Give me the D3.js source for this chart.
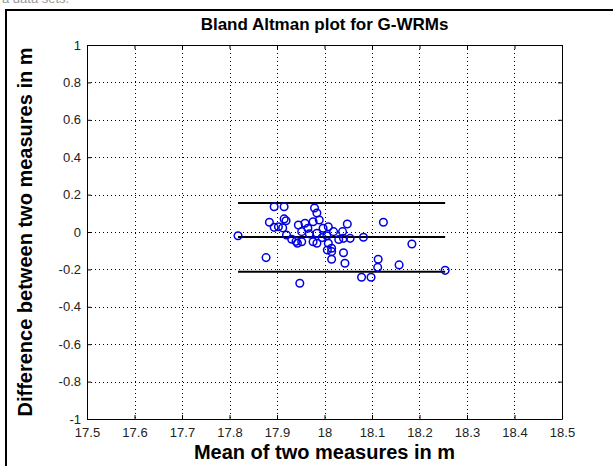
<!DOCTYPE html>
<html>
<head>
<meta charset="utf-8">
<script src="https://cdn.jsdelivr.net/npm/d3@7"></script>
<style>
  body { margin: 0; background: #fff; }
  svg { display: block; font-family: Arial, 'Liberation Sans', sans-serif; }
</style>
</head>
<body>
<svg id="chart" width="613" height="466"></svg>
<script>
// mean of the two measures (x) and their difference (y)
const meanVals = [
  17.818, 17.877, 17.884, 17.894, 17.915, 17.915, 17.894, 17.903, 17.912, 17.919,
  17.920, 17.931, 17.945, 17.943, 17.948, 17.959, 17.952, 17.952, 17.979, 17.984,
  17.976, 17.989, 17.984, 17.976, 17.984, 17.997, 18.008, 18.019, 18.008, 18.006,
  18.015, 18.015, 18.040, 18.015, 18.043, 18.048, 18.038, 18.040, 18.054, 18.082,
  18.124, 18.184, 18.113, 18.112, 18.157, 18.078, 18.098, 18.254, 17.995, 18.005,
  18.030, 17.968, 17.940, 17.965,
];
const diffVals = [
  -0.020, -0.137, 0.052, 0.135, 0.135, 0.070, 0.025, 0.028, 0.022, 0.060,
  -0.016, -0.039, 0.037, -0.060, -0.274, 0.047, 0.002, -0.052, 0.128, 0.102,
  0.055, 0.064, -0.007, -0.052, -0.060, 0.020, 0.028, 0.002, -0.060, -0.096,
  -0.105, -0.087, -0.111, -0.146, -0.167, 0.043, 0.002, -0.034, -0.034, -0.028,
  0.052, -0.064, -0.146, -0.189, -0.176, -0.242, -0.242, -0.205, -0.030, -0.020,
  -0.040, -0.010, -0.050, 0.020,
];

// mean difference and limits of agreement
const meanDiff = -0.027;
const upperLoA = 0.155;
const lowerLoA = -0.212;

const xTicks = [17.5, 17.6, 17.7, 17.8, 17.9, 18, 18.1, 18.2, 18.3, 18.4, 18.5];
const xTickLabels = ['17.5', '17.6', '17.7', '17.8', '17.9', '18', '18.1', '18.2', '18.3', '18.4', '18.5'];
const yTicks = [-1, -0.8, -0.6, -0.4, -0.2, 0, 0.2, 0.4, 0.6, 0.8, 1];
const yTickLabels = ['-1', '-0.8', '-0.6', '-0.4', '-0.2', '0', '0.2', '0.4', '0.6', '0.8', '1'];

const svg = d3.select('#chart');

const x = d3.scaleLinear().domain([17.5, 18.5]).range([87, 562]);
const y = d3.scaleLinear().domain([-1, 1]).range([419, 45]);

// outer figure frame (runs off the right and bottom edge)
svg.append('rect')
  .attr('x', 6).attr('y', 10)
  .attr('width', 700).attr('height', 600)
  .attr('fill', 'none')
  .attr('stroke', '#000')
  .attr('stroke-width', 2);

// caption line of the page above, mostly cut off
svg.append('text')
  .attr('x', 2).attr('y', 3)
  .attr('fill', '#999')
  .attr('font-size', 13)
  .text('a data sets.');

// dotted grid
const grid = svg.append('g').attr('stroke', '#000').attr('stroke-dasharray', '1,3');
grid.selectAll('.gx')
  .data(xTicks.slice(1, -1))
  .join('line')
  .attr('class', 'gx')
  .attr('x1', (d) => Math.round(x(d)) + 0.5).attr('x2', (d) => Math.round(x(d)) + 0.5)
  .attr('y1', y(1)).attr('y2', y(-1));
grid.selectAll('.gy')
  .data(yTicks.slice(1, -1))
  .join('line')
  .attr('class', 'gy')
  .attr('y1', (d) => Math.round(y(d)) + 0.5).attr('y2', (d) => Math.round(y(d)) + 0.5)
  .attr('x1', x(17.5)).attr('x2', x(18.5));

// axes, ticks pointing inward, box on
const fmtX = (d) => xTickLabels[xTicks.indexOf(d)];
const fmtY = (d) => yTickLabels[yTicks.indexOf(d)];

svg.append('g')
  .attr('transform', `translate(0,${y(-1)})`)
  .call(d3.axisBottom(x).tickValues(xTicks).tickFormat(fmtX).tickSizeInner(-4).tickSizeOuter(0).tickPadding(9));
svg.append('g')
  .attr('transform', `translate(${x(17.5)},0)`)
  .call(d3.axisLeft(y).tickValues(yTicks).tickFormat(fmtY).tickSizeInner(-4).tickSizeOuter(0).tickPadding(6));
svg.append('g')
  .attr('transform', `translate(0,${y(1)})`)
  .call(d3.axisTop(x).tickValues(xTicks).tickFormat('').tickSizeInner(-4).tickSizeOuter(0));
svg.append('g')
  .attr('transform', `translate(${x(18.5)},0)`)
  .call(d3.axisRight(y).tickValues(yTicks).tickFormat('').tickSizeInner(-4).tickSizeOuter(0));

svg.selectAll('.tick text')
  .attr('font-family', 'Arial, Liberation Sans, sans-serif')
  .attr('font-size', 13)
  .attr('fill', '#222');

// limits-of-agreement lines across the range of means
const [xMin, xMax] = d3.extent(meanVals);
svg.append('g')
  .selectAll('line')
  .data([upperLoA, meanDiff, lowerLoA])
  .join('line')
  .attr('x1', x(xMin)).attr('x2', x(xMax))
  .attr('y1', (d) => y(d)).attr('y2', (d) => y(d))
  .attr('stroke', '#000')
  .attr('stroke-width', 2);

// points
const points = meanVals.map((m, i) => ({ m, d: diffVals[i] }));
svg.append('g')
  .selectAll('circle')
  .data(points)
  .join('circle')
  .attr('cx', (p) => x(p.m))
  .attr('cy', (p) => y(p.d))
  .attr('r', 3.8)
  .attr('fill', 'none')
  .attr('stroke', '#0000e0')
  .attr('stroke-width', 1.5);

// titles
svg.append('text')
  .attr('x', (x(17.5) + x(18.5)) / 2).attr('y', 30)
  .attr('text-anchor', 'middle')
  .attr('font-weight', 'bold')
  .attr('font-size', 17)
  .text('Bland Altman plot for G-WRMs');

svg.append('text')
  .attr('x', (x(17.5) + x(18.5)) / 2).attr('y', 459)
  .attr('text-anchor', 'middle')
  .attr('font-weight', 'bold')
  .attr('font-size', 20)
  .text('Mean of two measures in m');

svg.append('text')
  .attr('transform', `translate(32,${(y(1) + y(-1)) / 2}) rotate(-90)`)
  .attr('text-anchor', 'middle')
  .attr('font-weight', 'bold')
  .attr('font-size', 20)
  .text('Difference between two measures in m');
</script>
</body>
</html>
